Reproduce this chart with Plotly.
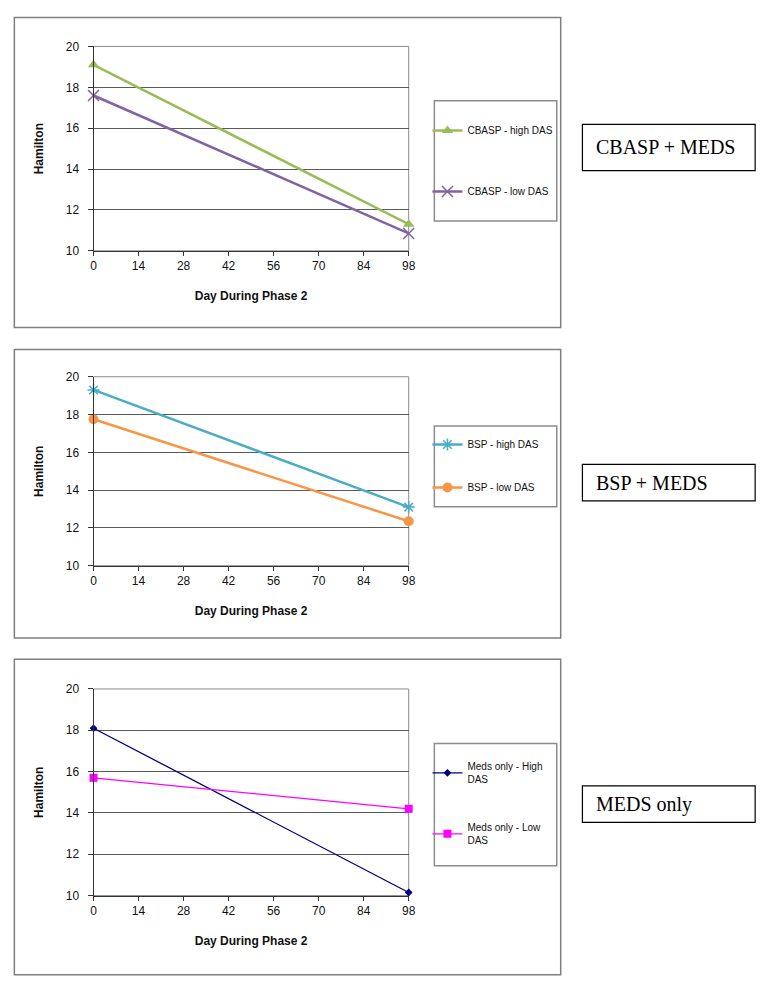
import plotly.graph_objects as go

W, H = 774, 993

days = [0, 98]

# panel 1 - CBASP + MEDS
cbasp_high = [19.1, 11.3]
cbasp_low = [17.6, 10.85]
# panel 2 - BSP + MEDS
bsp_high = [19.3, 13.1]
bsp_low = [17.75, 12.35]
# panel 3 - MEDS only
meds_high = [18.1, 10.15]
meds_low = [15.7, 14.2]

x_ticks = [0, 14, 28, 42, 56, 70, 84, 98]
y_ticks = [10, 12, 14, 16, 18, 20]

FONT = "Arial, Liberation Sans, sans-serif"
SERIF = "Times New Roman, Liberation Serif, serif"


def px_x(p):
    return p / W


def px_y(p):
    return 1 - p / H


fig = go.Figure()

panels = [
    dict(top=40, bot=247.3, otop=10.7, obot=325, leg=(95, 217), leg_y=110.5, lab=(119, 166), text="CBASP + MEDS"),
    dict(top=375, bot=566.7, otop=347.5, obot=640, leg=(425, 507), leg_y=429, lab=(464, 501), text="BSP + MEDS"),
    dict(top=691.7, bot=901.3, otop=661.7, obot=981.7, leg=(747, 871), leg_y=757, lab=(790, 827), text="MEDS only"),
]

series = [
    [
        ("CBASP - high DAS", cbasp_high, "#9BBB59", dict(symbol="triangle-up", size=10), 2.5),
        ("CBASP - low DAS", cbasp_low, "#8064A2", dict(symbol="x-thin-open", size=11, line=dict(width=1.5, color="#8064A2")), 2.5),
    ],
    [
        ("BSP - high DAS", bsp_high, "#4BACC6", dict(symbol="asterisk-open", size=10, line=dict(width=1.5, color="#4BACC6")), 2.5),
        ("BSP - low DAS", bsp_low, "#F79646", dict(symbol="circle", size=10), 2.5),
    ],
    [
        ("Meds only - High<br>DAS", meds_high, "#000080", dict(symbol="diamond", size=6), 1.3),
        ("Meds only - Low<br>DAS", meds_low, "#FF00FF", dict(symbol="square", size=8), 1.3),
    ],
]

legend_gaps = [42, 24, 32]

shapes = []
annotations = []
layout = {}

for i, (p, ser) in enumerate(zip(panels, series)):
    n = "" if i == 0 else str(i + 1)
    leg = "legend" if i == 0 else f"legend{i + 1}"
    for name, vals, color, marker, lw in ser:
        fig.add_trace(go.Scatter(
            x=days, y=vals, name=name, mode="lines+markers",
            line=dict(color=color, width=lw), marker=dict(color=color, **marker),
            xaxis=f"x{n}", yaxis=f"y{n}", legend=leg, legendgroup=name,
            cliponaxis=False,
        ))

    layout[f"xaxis{n}"] = dict(
        domain=[px_x(91.7), px_x(411)], anchor=f"y{n}", range=[0, 98],
        tickvals=x_ticks, ticks="outside", ticklen=4, tickcolor="#333",
        showline=True, linecolor="#333", linewidth=1,
        showgrid=False, zeroline=False, fixedrange=True,
        tickfont=dict(family=FONT, size=12, color="#111"),
        title=dict(text="<b>Day During Phase 2</b>", standoff=19,
                   font=dict(family=FONT, size=12, color="#111")),
    )
    layout[f"yaxis{n}"] = dict(
        domain=[px_y(p["bot"]), px_y(p["top"])], anchor=f"x{n}", range=[10, 20],
        tickvals=y_ticks, ticks="outside", ticklen=5, tickcolor="#333",
        ticklabelstandoff=6,
        showline=True, linecolor="#333", linewidth=1,
        showgrid=True, gridcolor="#5a5a5a", gridwidth=1, zeroline=False,
        fixedrange=True,
        tickfont=dict(family=FONT, size=12, color="#111"),
        title=dict(text="<b>Hamilton</b>", standoff=19,
                   font=dict(family=FONT, size=12, color="#111")),
    )
    layout[leg] = dict(
        x=px_x(430), y=px_y(p["leg_y"]), xanchor="left", yanchor="top",
        bgcolor="rgba(0,0,0,0)", borderwidth=0, tracegroupgap=legend_gaps[i],
        font=dict(family=FONT, size=10, color="#111"), itemwidth=30,
    )

    # plot area border (top and right)
    shapes.append(dict(type="rect", xref="paper", yref="paper",
                       x0=px_x(91.7), x1=px_x(411), y0=px_y(p["bot"]), y1=px_y(p["top"]),
                       line=dict(color="#8c8c8c", width=1), layer="below"))
    # outer frame
    shapes.append(dict(type="rect", xref="paper", yref="paper",
                       x0=px_x(11.5), x1=px_x(565), y0=px_y(p["obot"]), y1=px_y(p["otop"]),
                       line=dict(color="#7f7f7f", width=1.5)))
    # legend frame
    shapes.append(dict(type="rect", xref="paper", yref="paper",
                       x0=px_x(437), x1=px_x(561), y0=px_y(p["leg"][1]), y1=px_y(p["leg"][0]),
                       line=dict(color="#8c8c8c", width=1.5)))
    # label box
    shapes.append(dict(type="rect", xref="paper", yref="paper",
                       x0=px_x(587), x1=px_x(762), y0=px_y(p["lab"][1]), y1=px_y(p["lab"][0]),
                       line=dict(color="#000", width=1.2)))
    annotations.append(dict(
        text=p["text"], xref="paper", yref="paper",
        x=px_x(599), y=px_y((p["lab"][0] + p["lab"][1]) / 2),
        xanchor="left", yanchor="middle", showarrow=False,
        font=dict(family=SERIF, size=20, color="#000"),
    ))

fig.update_layout(
    width=W, height=H, margin=dict(l=0, r=0, t=0, b=0),
    paper_bgcolor="white", plot_bgcolor="white",
    shapes=shapes, annotations=annotations,
    **layout,
)

# drop the default body margin so the figure fills the window exactly
fig.write_html(
    "out.html",
    config={"displayModeBar": False},
    post_script="document.body.style.margin='0';document.body.style.overflow='hidden';",
)
